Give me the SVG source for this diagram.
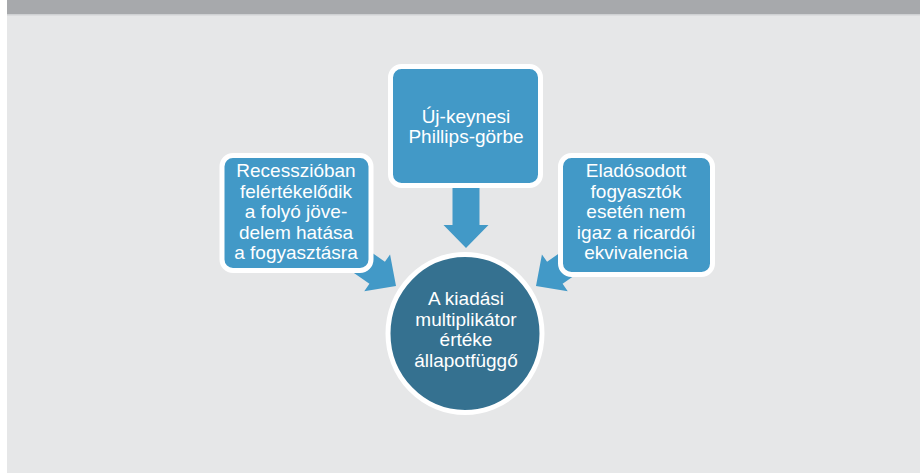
<svg xmlns="http://www.w3.org/2000/svg" width="920" height="474" viewBox="0 0 920 474">
<defs>
<style>
.box{fill:#4299c7;stroke:#ffffff;stroke-width:5}
.hub{fill:#357190;stroke:#ffffff;stroke-width:5}
.arrow{fill:#4299c7}
text{font-family:"Liberation Sans",Arial,sans-serif;font-size:19px;fill:#ffffff;text-anchor:middle}
</style>
<polygon id="arr" points="0,0 -23,-22.5 -23,-13.5 -70,-13.5 -70,13.5 -23,13.5 -23,22.5"/>
</defs>
<rect x="0" y="0" width="920" height="474" fill="#ffffff"/>
<rect x="7" y="14" width="913" height="459" fill="#e6e7e8"/>
<rect x="7" y="0" width="913" height="14" fill="#a7a9ac"/>
<rect x="7" y="14" width="913" height="1.5" fill="#cfd1d3"/>
<g id="connectors" class="arrow">
<use href="#arr" transform="translate(466,248) rotate(90)"/>
<use href="#arr" transform="translate(396,286) rotate(35)"/>
<use href="#arr" transform="translate(536,286) rotate(145)"/>
</g>
<g id="node-left">
<rect class="box" x="222" y="155.5" width="149" height="115" rx="11"/>
<text x="296" y="177">Recesszióban</text>
<text x="296" y="197.5">felértékelődik</text>
<text x="296" y="218">a folyó jöve-</text>
<text x="296" y="238.5">delem hatása</text>
<text x="296" y="259">a fogyasztásra</text>
</g>
<g id="node-top">
<rect class="box" x="390.5" y="66.5" width="150" height="119" rx="11"/>
<text x="466" y="123">Új-keynesi</text>
<text x="466" y="142.5">Phillips-görbe</text>
</g>
<g id="node-right">
<rect class="box" x="560.5" y="155.5" width="152" height="119" rx="11"/>
<text x="636" y="177">Eladósodott</text>
<text x="636" y="197.5">fogyasztók</text>
<text x="636" y="218">esetén nem</text>
<text x="636" y="238.5">igaz a ricardói</text>
<text x="636" y="259">ekvivalencia</text>
</g>
<g id="node-center">
<ellipse class="hub" cx="465" cy="333.5" rx="77" ry="79"/>
<text x="466" y="305">A kiadási</text>
<text x="466" y="325.5">multiplikátor</text>
<text x="466" y="346">értéke</text>
<text x="466" y="366.5">állapotfüggő</text>
</g>
</svg>
